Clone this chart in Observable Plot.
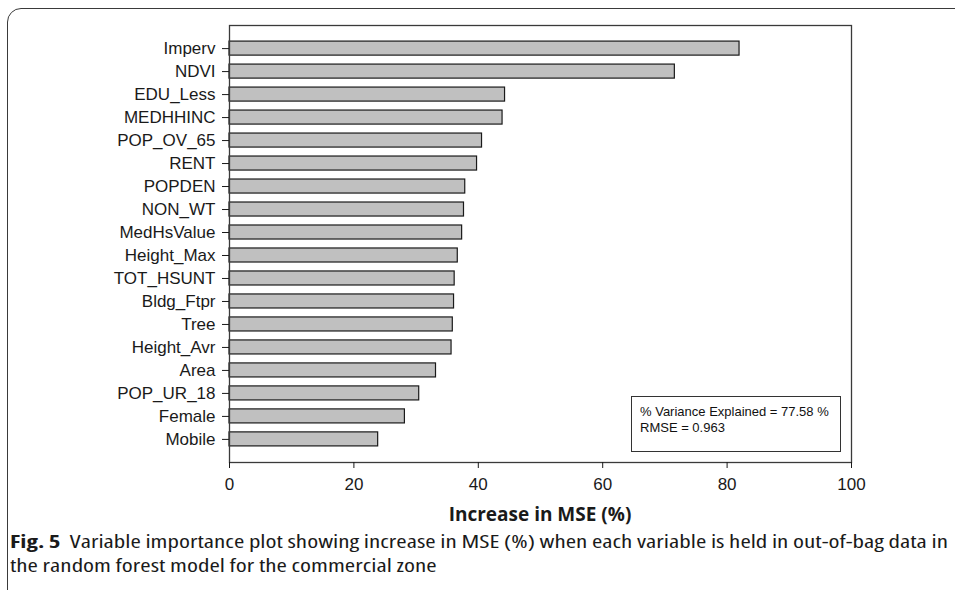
<!DOCTYPE html>
<html>
<head>
<meta charset="utf-8">
<script src="https://cdn.jsdelivr.net/npm/d3@7"></script>
<script src="https://cdn.jsdelivr.net/npm/@observablehq/plot@0.6"></script>
<style>
  html, body { margin: 0; padding: 0; background: #fff; overflow: hidden; width: 955px; height: 590px; }
  #wrap { position: relative; width: 955px; height: 590px; }
  #border { position: absolute; left: 7px; top: 8px; width: 990px; height: 610px;
            border: 1.3px solid #3a3a3a; border-radius: 14px; box-sizing: border-box; }
  #chart { position: absolute; left: 0; top: 0; }
  #note { position: absolute; left: 631px; top: 396px; width: 210px; height: 56px;
          border: 1px solid #333; box-sizing: border-box; background: #fff;
          font: 13px "Liberation Sans", Arial, sans-serif; color: #111;
          line-height: 16px; padding: 7px 0 0 8px; white-space: nowrap; }
  .cond { font-family: "Open Sans", "Liberation Sans Narrow", "DejaVu Sans Condensed", sans-serif;
          color: #1a1a1a; }
  #xlabel { position: absolute; top: 501px; left: 229px; width: 622px; text-align: center;
            font-size: 19px; font-weight: 700; line-height: 26px; font-stretch: normal; }
  #caption { position: absolute; top: 529px; left: 10px; font-size: 18px; line-height: 24px;
             white-space: nowrap; font-stretch: condensed; }
  #caption div { transform-origin: 0 50%; }
  #caption b { font-weight: 700; }
</style>
</head>
<body>
<div id="wrap">
  <div id="border"></div>
  <div id="chart"></div>
  <div id="note">% Variance Explained = 77.58 %<br>RMSE = 0.963</div>
  <div id="xlabel" class="cond">Increase in MSE (%)</div>
  <div id="caption" class="cond">
    <div id="cap1"><b>Fig. 5</b>&nbsp; Variable importance plot showing increase in MSE (%) when each variable is held in out-of-bag data in</div>
    <div id="cap2">the random forest model for the commercial zone</div>
  </div>
</div>
<script>
// Random forest variable importance, commercial zone
const variables = ["Imperv", "NDVI", "EDU_Less", "MEDHHINC", "POP_OV_65", "RENT", "POPDEN", "NON_WT",
  "MedHsValue", "Height_Max", "TOT_HSUNT", "Bldg_Ftpr", "Tree", "Height_Avr", "Area", "POP_UR_18",
  "Female", "Mobile"];
const incMSE = [82.0, 71.6, 44.3, 43.9, 40.6, 39.8, 37.9, 37.7, 37.4, 36.7, 36.2, 36.1, 35.9, 35.7,
  33.2, 30.5, 28.2, 23.9];
const xTicks = [0, 20, 40, 60, 80, 100];

const rows = variables.map((v, i) => ({variable: v, value: incMSE[i]}));

const chart = Plot.plot({
  width: 955,
  height: 502,
  marginTop: 25,
  marginLeft: 229,
  marginRight: 104,
  marginBottom: 40,
  style: {fontFamily: '"Liberation Sans", Arial, sans-serif', fontSize: "17px", color: "#1a1a1a", background: "transparent"},
  x: {domain: [0, 100], ticks: xTicks, label: null},
  y: {domain: variables, paddingInner: 0.39, paddingOuter: 0.7, round: false, label: null},
  marks: [
    Plot.barX(rows, {x: "value", y: "variable", fill: "#c0c0c0", stroke: "#1a1a1a", strokeWidth: 1.2}),
    Plot.frame({stroke: "#3a3a3a", strokeWidth: 1.3}),
    Plot.axisX({ticks: xTicks, tickSize: 6, tickPadding: 9, fontSize: 17, label: null}),
    Plot.axisY({tickSize: 7, tickPadding: 7, fontSize: 17, label: null})
  ]
});
document.getElementById("chart").appendChild(chart);

// Fit the first caption line to the text block width
const cap1 = document.getElementById("cap1");
const cap2 = document.getElementById("cap2");
const range = document.createRange();
range.selectNodeContents(cap1);
const w = range.getBoundingClientRect().width;
const k = 938 / w;
cap1.style.transform = `scaleX(${k})`;
cap2.style.transform = `scaleX(${k})`;
</script>
</body>
</html>
